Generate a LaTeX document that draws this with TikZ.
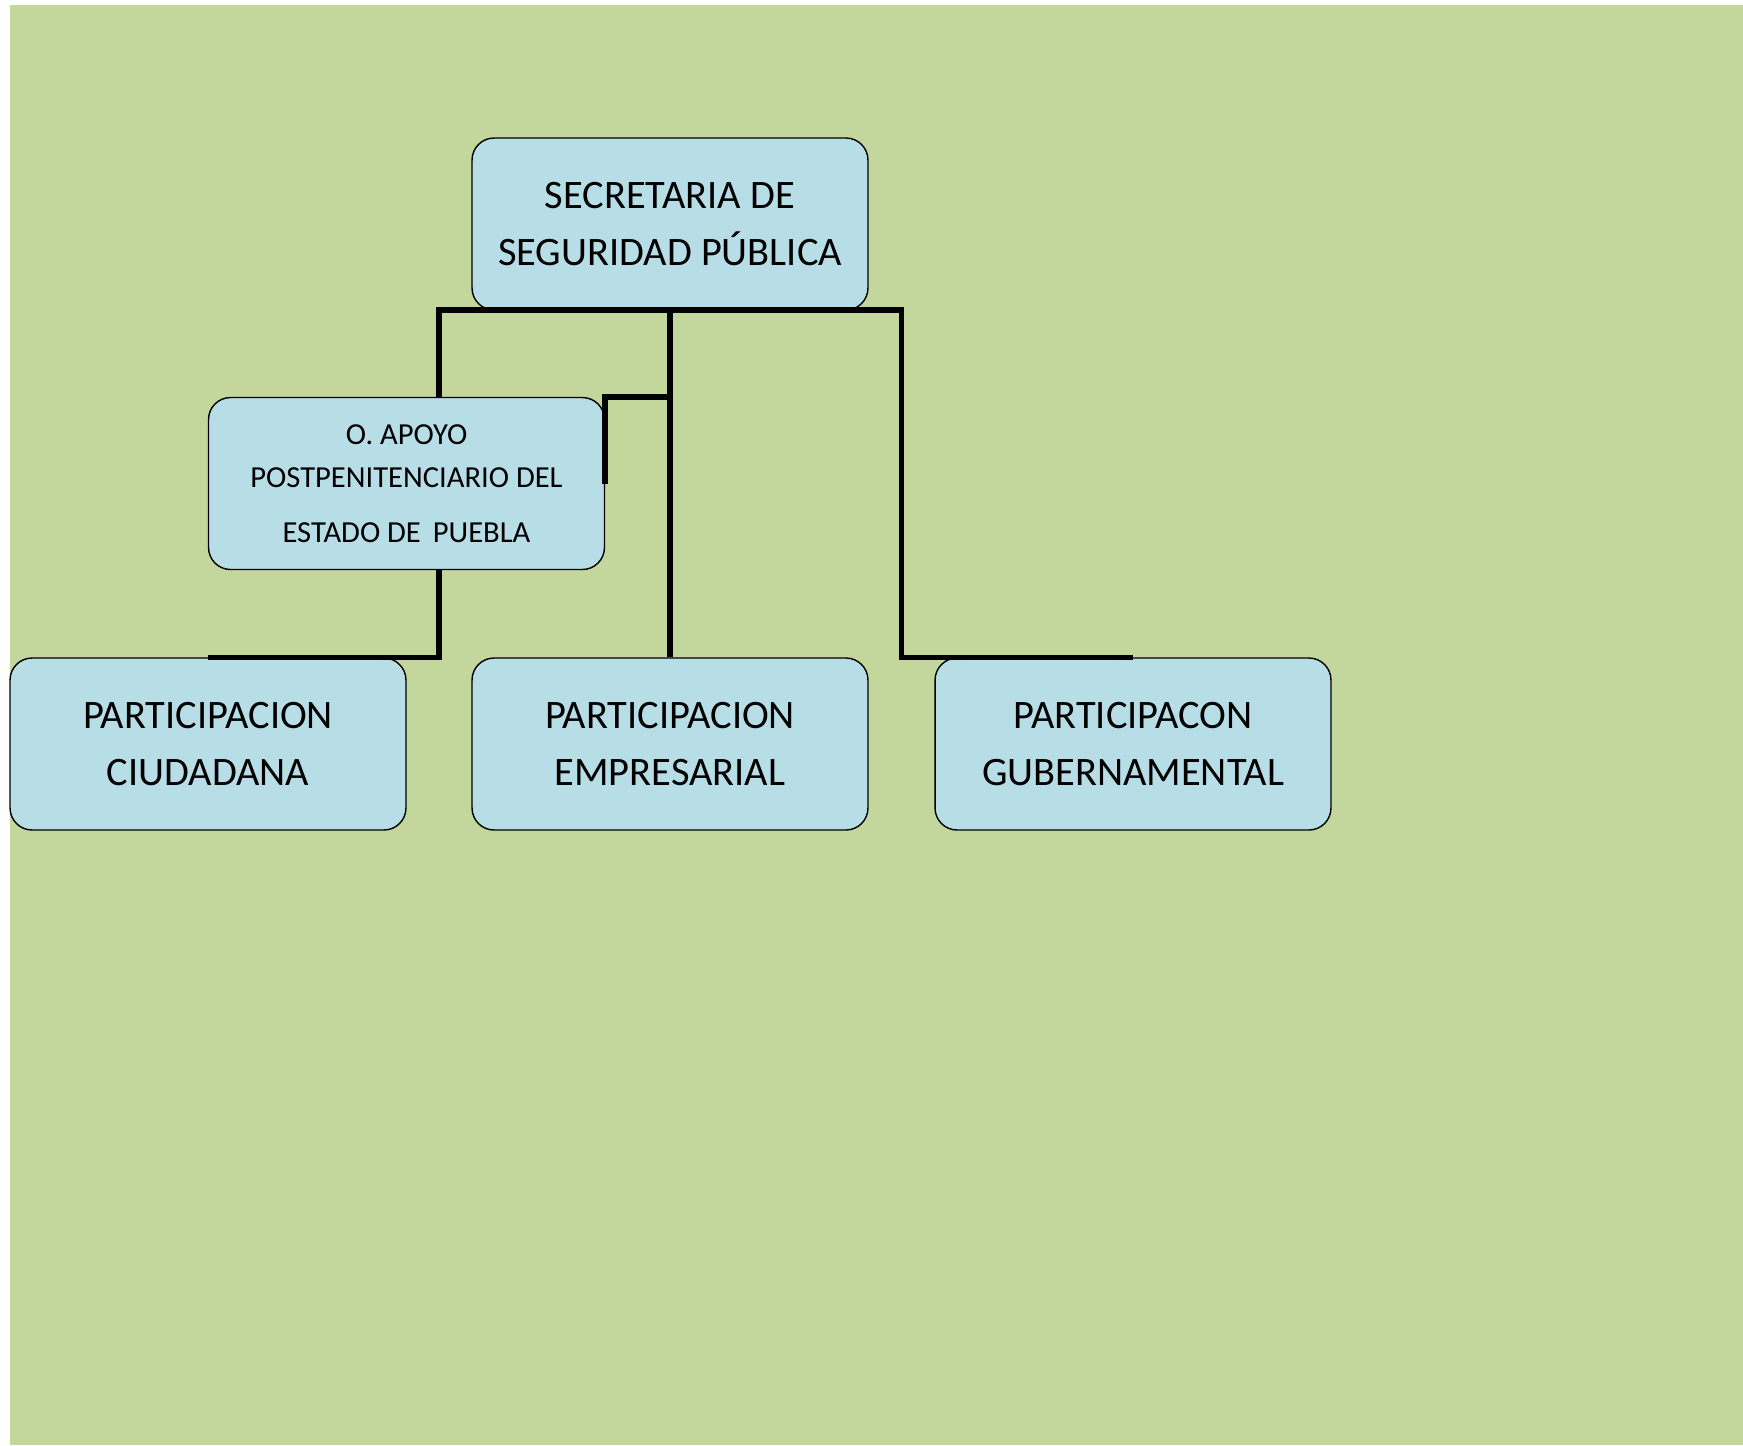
\documentclass[tikz,border=0pt]{standalone}
\usepackage{fontspec}
\setmainfont{Carlito}
\tikzset{box/.style = {draw, fill = mcyan, rounded corners = 0.44cm, line width = 0.8pt, minimum width = 7.92cm, minimum height = 3.44cm, align = center, font = \fontsize{23}{32}\selectfont}}
\tikzset{conn/.style = {line width = 3.2pt}}
\definecolor{mgreen}{RGB}{195, 214, 155}
\definecolor{mcyan}{RGB}{183, 222, 230}

\begin{document}
\begin{tikzpicture}[x = 0.02cm, y = -0.02cm]
    \fill [white] (0, 0) rectangle (1743, 1445);
    \fill [mgreen] (10, 5) rectangle (1743, 1445);

    \node [box] (ssp) at (670, 224) {SECRETARIA DE\\SEGURIDAD PÚBLICA};
    \node [box, font = \fontsize{17.4}{24.5}\selectfont] (apoyo) at (406.5, 483.5)
      {O. APOYO\\POSTPENITENCIARIO DEL\\[6.8pt]ESTADO DE\, PUEBLA};

    \node [box] (ciud) at (208, 744) {PARTICIPACION\\CIUDADANA};
    \node [box] (emp) at (670, 744) {PARTICIPACION\\EMPRESARIAL};
    \node [box] (gub) at (1133, 744) {PARTICIPACON\\GUBERNAMENTAL};

    % lines
    \coordinate (la) at (439, 310);
    \coordinate (ra) at (901.5, 310);
    \draw [conn] (la |- apoyo.north) -- (la) -- (ra) |- (gub.north);
    \draw [conn] (ssp.south) -- (emp.north);
    \draw [conn] (ssp.south |- apoyo.north) -| (apoyo.east);
    \draw [conn] (la |- apoyo.south) |- (ciud.north);
  \end{tikzpicture}
\end{document}
